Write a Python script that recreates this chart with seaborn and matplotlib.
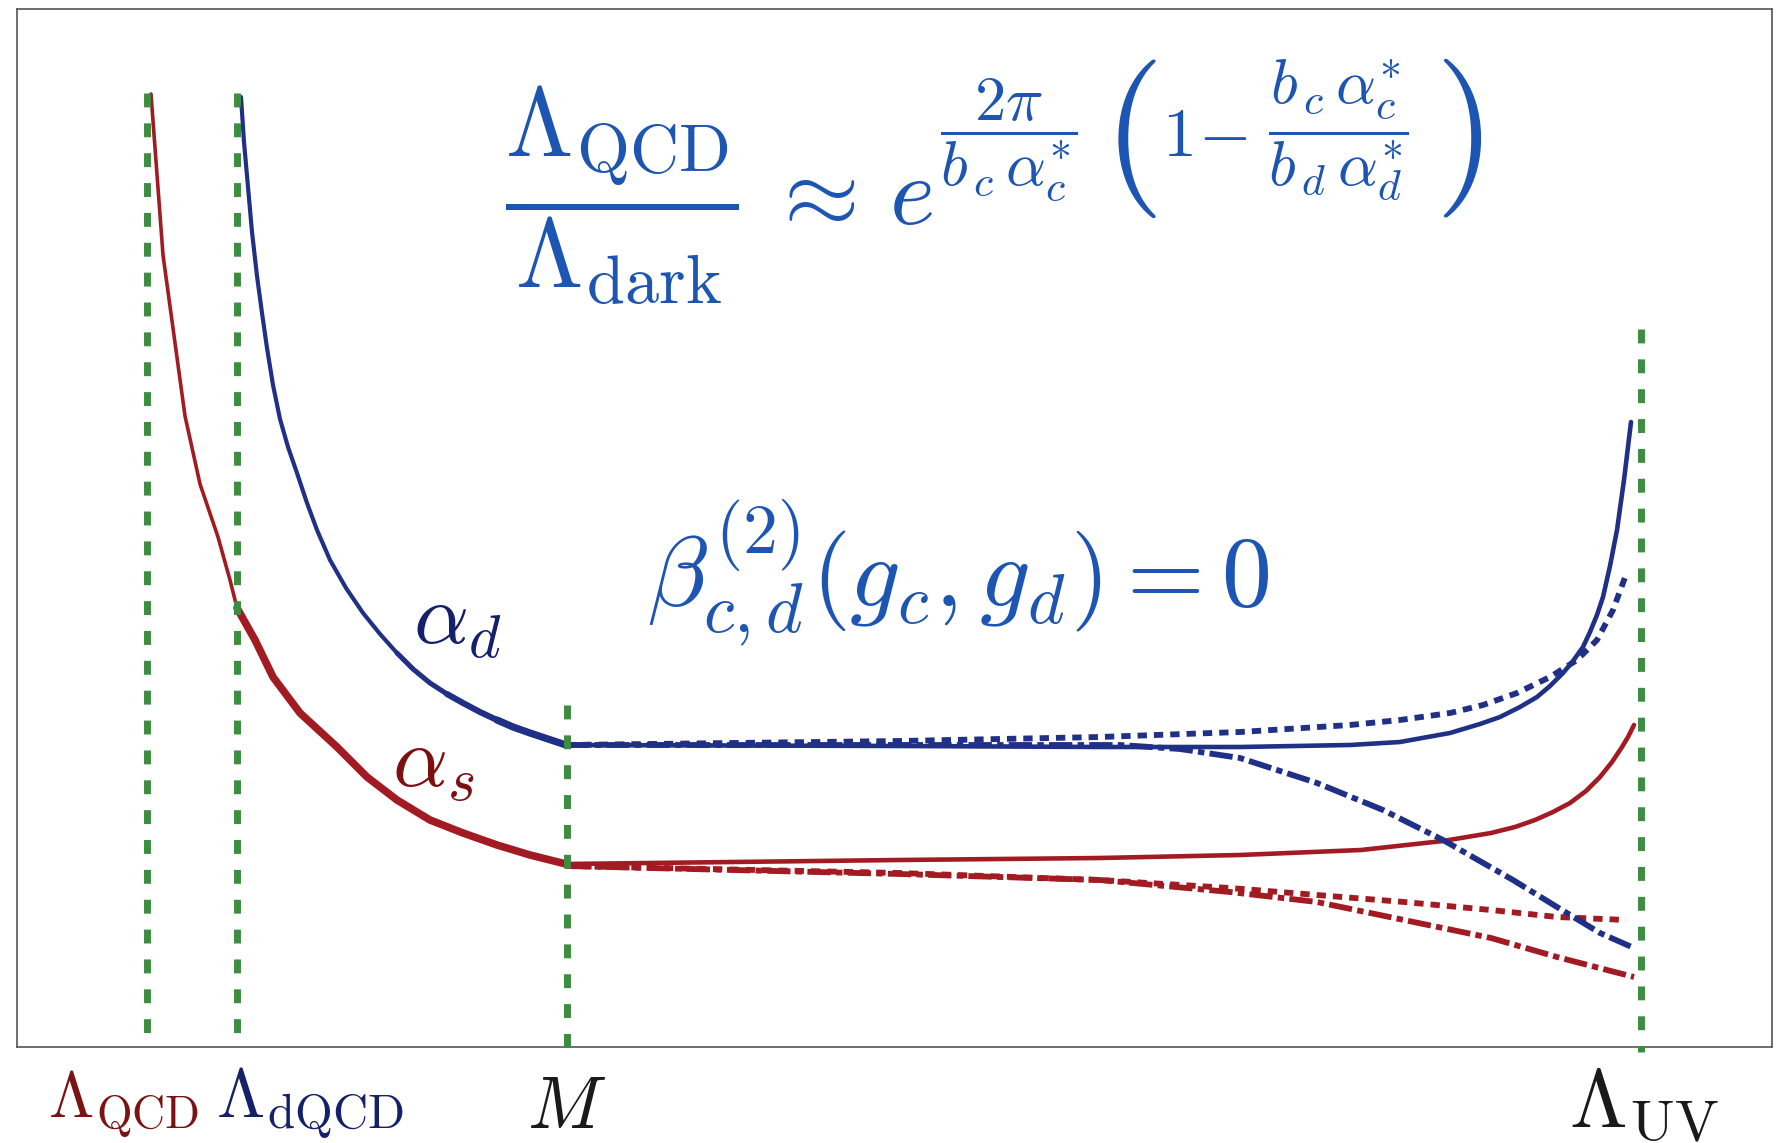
import matplotlib
matplotlib.use("Agg")
import matplotlib.pyplot as plt
import pandas as pd
import seaborn as sns

# values (horizontal: scale position, vertical: coupling, picture units)
SCALE_X = [147, 237, 567, 1641]
SCALE_TOP = [93, 93, 705, 329]
SCALE_BOTTOM = [1042, 1042, 1052, 1052]

# alpha_s below M (running with SM content)
AS_LOW_X = [151, 163, 185, 200, 218, 230, 237, 255, 273, 300, 337, 347, 367, 397, 430, 463, 497, 530, 566]
AS_LOW_Y = [94, 255, 416, 484, 537, 580, 608, 640, 677, 713, 747, 757, 777, 800, 820, 833, 845, 855, 864]

# alpha_d below M
AD_LOW_X = [241, 244, 248, 252, 257, 262, 267, 273, 280, 288, 297, 307, 317, 330, 346, 363, 380, 397, 413, 430, 447, 463, 480, 497, 513, 530, 548, 566]
AD_LOW_Y = [97, 142, 187, 232, 276, 313, 348, 385, 419, 447, 473, 503, 530, 560, 588, 613, 634, 653, 669, 683, 694, 703, 712, 720, 727, 733, 739, 745]

# above M: solid / dotted / dash-dotted
AD_HIGH_X = [566, 900, 1100, 1240, 1350, 1400, 1450, 1480, 1500, 1520, 1537, 1550, 1563, 1573, 1583, 1590, 1597, 1603, 1610, 1617, 1624, 1631]
AD_HIGH_Y = [745, 746, 747, 747, 745, 742, 733, 724, 717, 707, 697, 686, 673, 661, 647, 632, 615, 597, 566, 530, 480, 422]
AD_DOT_X = [566, 900, 1100, 1240, 1350, 1400, 1450, 1483, 1517, 1550, 1577, 1597, 1613, 1627]
AD_DOT_Y = [745, 741, 737, 732, 725, 720, 713, 705, 693, 677, 660, 640, 610, 572]
AD_DD_X = [566, 1000, 1120, 1180, 1240, 1317, 1383, 1443, 1513, 1557, 1600, 1634]
AD_DD_Y = [745, 745, 745, 749, 758, 783, 810, 840, 880, 907, 933, 948]

AS_HIGH_X = [566, 900, 1100, 1240, 1361, 1443, 1491, 1515, 1535, 1553, 1570, 1586, 1600, 1612, 1622, 1628, 1634]
AS_HIGH_Y = [864, 860, 858, 855, 850, 841, 833, 827, 820, 812, 803, 791, 777, 762, 747, 737, 725]
AS_DOT_X = [566, 900, 1100, 1230, 1317, 1404, 1491, 1557, 1626]
AS_DOT_Y = [866, 873, 880, 888, 895, 902, 910, 917, 920]
AS_DD_X = [566, 900, 1100, 1230, 1317, 1404, 1491, 1557, 1634]
AS_DD_Y = [866, 874, 880, 892, 902, 920, 938, 957, 977]

SCALE_LABELS = [r"$\Lambda_{\mathrm{QCD}}$", r"$\Lambda_{\mathrm{dQCD}}$", r"$M$", r"$\Lambda_{\mathrm{UV}}$"]

BLUE = "#203087"
RED = "#a31b22"
GREEN = "#3c8d40"
TEXT_BLUE = "#1d55b3"
NAVY = "#14206a"
DARK_RED = "#7a1414"

DOT = (0, (1.6, 1.2))
DASHDOT = (0, (4.0, 0.9, 1.1, 0.9))

sns.set_style("white")
plt.rcParams["mathtext.fontset"] = "cm"
plt.rcParams["font.family"] = ["DejaVu Sans"]

fig = plt.figure(figsize=(17.8, 11.43), dpi=100)
ax = fig.add_axes([17 / 1780, 1 - 1047 / 1143, 1755 / 1780, 1038 / 1143])


def curve(xs, ys, color, lw, ls="-", z=2):
    df = pd.DataFrame({"x": xs, "y": ys})
    sns.lineplot(data=df, x="x", y="y", ax=ax, color=color, lw=lw, linestyle=ls,
                 sort=False, estimator=None, zorder=z, solid_capstyle="round",
                 solid_joinstyle="round", dash_capstyle="butt")


curve(AS_LOW_X, AS_LOW_Y, RED, 2.6)
curve(AS_LOW_X[6:], AS_LOW_Y[6:], RED, 5.5)
curve(AD_LOW_X, AD_LOW_Y, BLUE, 3.0)
curve(AD_LOW_X[17:], AD_LOW_Y[17:], BLUE, 3.6)
curve(AD_LOW_X[20:], AD_LOW_Y[20:], BLUE, 4.4)
curve(AD_LOW_X[23:], AD_LOW_Y[23:], BLUE, 5.2)

curve(AS_DOT_X, AS_DOT_Y, RED, 4.2, DOT)
curve(AS_DD_X, AS_DD_Y, RED, 4.2, DASHDOT)
curve(AS_HIGH_X, AS_HIGH_Y, RED, 3.3)
curve(AD_DOT_X, AD_DOT_Y, BLUE, 4.2, DOT)
curve(AD_DD_X, AD_DD_Y, BLUE, 4.2, DASHDOT)
curve(AD_HIGH_X, AD_HIGH_Y, BLUE, 3.3)

ax.vlines(SCALE_X, SCALE_TOP, SCALE_BOTTOM, colors=GREEN, linewidth=5,
          linestyles=[(0, (2.0, 2.3))], zorder=5, clip_on=False)

ax.set_xlim(17, 1772)
ax.set_ylim(1047, 9)
ax.set_xticks([])
ax.set_yticks([])
ax.set_xlabel("")
ax.set_ylabel("")
for sp in ax.spines.values():
    sp.set_color("#555555")
    sp.set_linewidth(1.2)

# ratio of confinement scales, built from pieces so the exponent matches the original sizes
formula = [
    (505, 224, r"$\dfrac{\Lambda_{\mathrm{QCD}}}{\Lambda_{\mathrm{dark}}}$", 70, "baseline"),
    (766, 224, r"$\approx$", 70, "baseline"),
    (889, 224, r"$e$", 70, "baseline"),
    (940, 144, r"$\dfrac{2\pi}{b_{\,c}\,\alpha^{*}_{c}}$", 45, "baseline"),
    (1102, 138, r"$($", 114, "center"),
    (1162, 156, r"$1\!-\!$", 49, "baseline"),
    (1268, 144, r"$\dfrac{b_{\,c}\,\alpha^{*}_{c}}{b_{\,d}\,\alpha^{*}_{d}}$", 45, "baseline"),
    (1434, 138, r"$)$", 114, "center"),
]
for fx, fy, txt, fs, va in formula:
    ax.text(fx, fy, txt, fontsize=fs, color=TEXT_BLUE, ha="left", va=va)

ax.text(647, 573, r"$\beta^{(2)}_{c,d}(g_c, g_d) = 0$",
        fontsize=72, color=TEXT_BLUE, ha="left", va="center")
ax.text(457, 620, r"$\alpha_d$", fontsize=62, color=NAVY, ha="center", va="center")
ax.text(433, 763, r"$\alpha_s$", fontsize=62, color="#7c1010", ha="center", va="center")

label_x = [124, 310, 567, 1644]
label_y = [1118, 1118, 1128, 1126]
label_colors = [DARK_RED, NAVY, "#1a1a1a", "#1a1a1a"]
label_sizes = [47, 50, 53, 60]
for lx, ly, lab, c, s in zip(label_x, label_y, SCALE_LABELS, label_colors, label_sizes):
    ax.text(lx, ly, lab, fontsize=s, color=c, ha="center", va="baseline", clip_on=False)

fig.savefig("out.png", dpi=100)
